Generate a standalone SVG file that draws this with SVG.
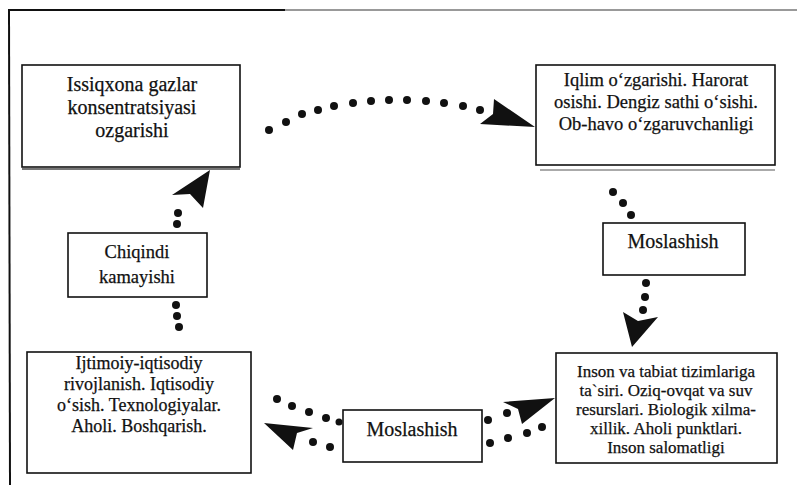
<svg xmlns="http://www.w3.org/2000/svg" width="797" height="485" viewBox="0 0 797 485">
<style>
.box{fill:#fff;stroke:#111;stroke-width:1.6}
.t{font-family:"Liberation Serif","Times New Roman",serif;fill:#111;text-anchor:middle;stroke:#111;stroke-width:0.25}
.dot{fill:#111}
.head{fill:#111}
</style>
<rect width="797" height="485" fill="#fff"/>
<g id="frame">
<line x1="8" y1="10" x2="285" y2="10" stroke="#111" stroke-width="2"/>
<line x1="285" y1="10" x2="797" y2="10" stroke="#999" stroke-width="2"/>
<line x1="9" y1="10" x2="10" y2="485" stroke="#111" stroke-width="2"/>
</g>
<g id="connectors">
<g id="top-arc">
<circle class="dot" cx="269" cy="130" r="4"/><circle class="dot" cx="286" cy="122" r="4"/><circle class="dot" cx="302" cy="114" r="4"/><circle class="dot" cx="318" cy="110" r="4"/><circle class="dot" cx="334" cy="106" r="4"/><circle class="dot" cx="353" cy="103" r="4"/><circle class="dot" cx="371" cy="101" r="4"/><circle class="dot" cx="389" cy="100" r="4"/><circle class="dot" cx="407" cy="100" r="4"/><circle class="dot" cx="426" cy="101" r="4"/><circle class="dot" cx="444" cy="103" r="4"/><circle class="dot" cx="463" cy="106" r="4"/><circle class="dot" cx="480" cy="110" r="4"/>
<polygon class="head" points="535,127 480,124 493,114 494,99"/>
</g>
<g id="right-vertical">
<circle class="dot" cx="613" cy="192" r="4"/><circle class="dot" cx="623" cy="203" r="4"/><circle class="dot" cx="631" cy="215" r="4"/>
<circle class="dot" cx="646" cy="283" r="4"/><circle class="dot" cx="645" cy="297" r="4"/><circle class="dot" cx="643" cy="310" r="4"/>
<polygon class="head" points="632,347 623,312 638,321 658,317"/>
</g>
<g id="left-vertical">
<circle class="dot" cx="178" cy="213" r="4"/><circle class="dot" cx="177" cy="224" r="4"/>
<circle class="dot" cx="176" cy="305" r="4"/><circle class="dot" cx="177" cy="316" r="4"/><circle class="dot" cx="179" cy="327" r="4"/>
<polygon class="head" points="210,170 172,195 190,194 203,208"/>
</g>
<g id="bottom-left">
<circle class="dot" cx="277" cy="399" r="4"/><circle class="dot" cx="292" cy="406" r="4"/><circle class="dot" cx="309" cy="412" r="4"/><circle class="dot" cx="326" cy="418" r="4"/><circle class="dot" cx="339" cy="422" r="3.5"/>
<circle class="dot" cx="313" cy="442" r="4"/><circle class="dot" cx="330" cy="447" r="4"/>
<polygon class="head" points="264,423 313,428 297,433 293,450"/>
</g>
<g id="bottom-right">
<circle class="dot" cx="488" cy="420" r="4"/><circle class="dot" cx="507" cy="413" r="4"/>
<circle class="dot" cx="490" cy="443" r="4"/><circle class="dot" cx="508" cy="438" r="4"/><circle class="dot" cx="527" cy="433" r="4"/><circle class="dot" cx="542" cy="427" r="4"/>
<polygon class="head" points="555,398 503,402 518,409 522,424"/>
</g>
</g>
<g id="node-greenhouse">
<rect class="box" x="22" y="65" width="218" height="102"/>
<line x1="22" y1="169" x2="240" y2="169" stroke="#777" stroke-width="2"/>
<text class="t" font-size="20" x="132" y="91">Issiqxona gazlar</text>
<text class="t" font-size="20" x="132" y="114">konsentratsiyasi</text>
<text class="t" font-size="20" x="132" y="137">ozgarishi</text>
</g>
<g id="node-climate">
<rect class="box" x="536" y="65" width="239" height="100"/>
<line x1="540" y1="170" x2="775" y2="170" stroke="#aaa" stroke-width="2"/>
<text class="t" font-size="18.5" x="656" y="86">Iqlim o‘zgarishi. Harorat</text>
<text class="t" font-size="18.5" x="656" y="108">osishi. Dengiz sathi o‘sishi.</text>
<text class="t" font-size="18.5" x="656" y="130">Ob-havo o‘zgaruvchanligi</text>
</g>
<g id="node-adapt-right">
<rect class="box" x="603" y="223" width="142" height="52"/>
<text class="t" font-size="20" x="673" y="248">Moslashish</text>
</g>
<g id="node-impacts">
<rect class="box" x="556" y="353" width="221" height="110"/>
<text class="t" font-size="17" x="666" y="377">Inson va tabiat tizimlariga</text>
<text class="t" font-size="17" x="666" y="396">ta`siri. Oziq-ovqat va suv</text>
<text class="t" font-size="17" x="666" y="415">resurslari. Biologik xilma-</text>
<text class="t" font-size="17" x="666" y="434">xillik. Aholi punktlari.</text>
<text class="t" font-size="17" x="666" y="453">Inson salomatligi</text>
</g>
<g id="node-adapt-bottom">
<rect class="box" x="343" y="410" width="139" height="52"/>
<text class="t" font-size="20" x="412" y="436">Moslashish</text>
</g>
<g id="node-socio">
<rect class="box" x="27" y="352" width="224" height="121"/>
<text class="t" font-size="18" x="139" y="369">Ijtimoiy-iqtisodiy</text>
<text class="t" font-size="18" x="139" y="390">rivojlanish. Iqtisodiy</text>
<text class="t" font-size="18" x="139" y="411">o‘sish. Texnologiyalar.</text>
<text class="t" font-size="18" x="139" y="432">Aholi. Boshqarish.</text>
</g>
<g id="node-waste">
<rect class="box" x="68" y="233" width="139" height="64"/>
<text class="t" font-size="18.5" x="137" y="258">Chiqindi</text>
<text class="t" font-size="18.5" x="137" y="283">kamayishi</text>
</g>
</svg>
